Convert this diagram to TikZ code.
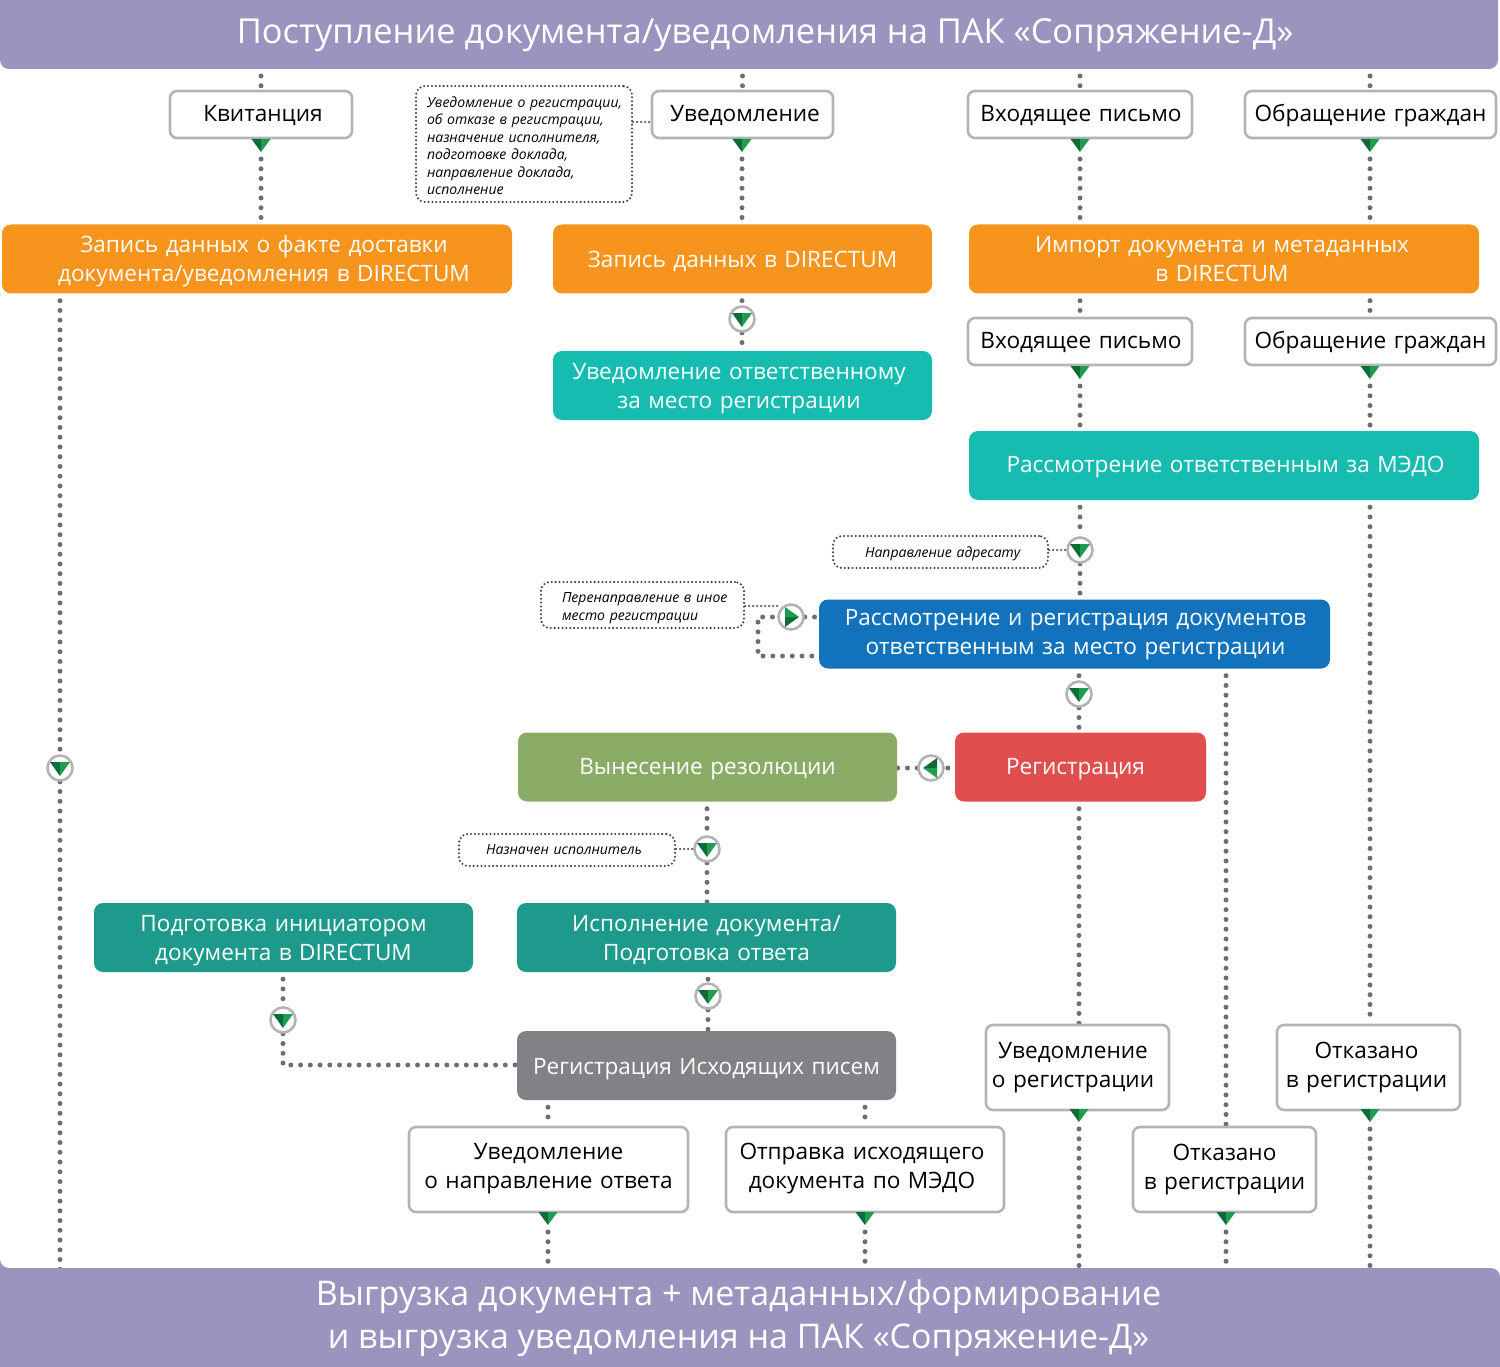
\documentclass[tikz,border=0pt]{standalone}
\usepackage{fontspec}
\setmainfont{Open Sans}
\usetikzlibrary{backgrounds}
\definecolor{cpurple}{HTML}{9D93BF}
\definecolor{corange}{HTML}{F7941E}
\definecolor{cteal}{HTML}{17BCB0}
\definecolor{cdteal}{HTML}{1D9A8C}
\definecolor{cblue}{HTML}{1272BC}
\definecolor{cred}{HTML}{E04E4E}
\definecolor{cgreen}{HTML}{8AAC66}
\definecolor{cgray}{HTML}{808285}
\definecolor{cdot}{HTML}{6D6E71}
\definecolor{cedge}{HTML}{B4B4B4}
\definecolor{tridark}{HTML}{0F6B38}
\definecolor{trilight}{HTML}{1E9C4F}
\newcommand\setcentre[1]{\centering\leftskip=\dimexpr 2\dimexpr #1pt\relax\relax plus 1fil\rightskip=0pt plus 1fil\relax}
\newcommand\tyv{0}
\newcommand\tuv{0}
\tikzset{
  x=1pt,y=-1pt,
  down/.store in=\tyv,
  up/.store in=\tuv,
  proc/.style 2 args={rounded corners=9,text width=#1,minimum height=69,inner sep=0,text=white,font=\fontsize{22.55}{29}\selectfont,
    execute at begin node={\setcentre{#2}\rule{0pt}{\dimexpr 20pt+2\dimexpr\tyv pt\relax\relax}},execute at end node={\rule[-8pt]{0pt}{8pt}}},
  doc/.style 2 args={draw=cedge,line width=2.6,fill=white,rounded corners=7,text width=#1,inner sep=0,text=black,font=\fontsize{22.6}{29}\selectfont,
    execute at begin node={\setcentre{#2}\rule{0pt}{24pt}},execute at end node={\rule[-\dimexpr 8pt+2\dimexpr\tuv pt\relax\relax]{0pt}{\dimexpr 8pt+2\dimexpr\tuv pt\relax\relax}}},
  band/.style={inner sep=0,align=center,text=white},
  note/.style={draw=black!75,line width=2.3,dash pattern=on 0pt off 3.9pt,line cap=round,rounded corners=9,fill=white,inner sep=0,align=left,font=\fontsize{14}{17.4}\selectfont\itshape},
  conn/.style={draw=cdot,line width=5,line cap=round,dash pattern=on 0pt off 9.75pt},
  fromedge/.style={conn,shorten <=7pt},
  thin/.style={draw=black!65,line width=2.4,line cap=round,dash pattern=on 0pt off 4pt},
  markc/.style={circle,draw=cedge,line width=2.6,fill=white,minimum size=25,inner sep=0},
}
\newcommand\trifill[2]{%
  \fill[tridark,shift={(#1)},rotate=#2] (-10,-6) -- (0,-6) -- (0,8) -- cycle;
  \fill[trilight,shift={(#1)},rotate=#2] (10,-6) -- (0,-6) -- (0,8) -- cycle;}
\newcommand\mk[4]{\node[markc] (#1) at (#2,#3) {}; \trifill{#1}{#4}}
\newcommand\tri[3]{\coordinate (#1) at (#2,#3); \fill[tridark] (#2-9.5,#3-13) -- (#2,#3-13) -- (#2,#3) -- cycle; \fill[trilight] (#2+9.5,#3-13) -- (#2,#3-13) -- (#2,#3) -- cycle;}
\begin{document}
\begin{tikzpicture}
\useasboundingbox (0,0) rectangle (1500,1367);
% bands
\fill[cpurple] (0,0) -- (1498,0) [rounded corners=9] -- (1498,69) -- (0,69) [sharp corners] -- cycle;
\node[band,font=\fontsize{34.4}{43.5}\selectfont,minimum width=1498,minimum height=63] (top) at (765,35) {Поступление документа/уведомления на ПАК «Сопряжение-Д»};
\coordinate (topS) at (749,69);
\fill[cpurple] (0,1367) -- (0,1268) [rounded corners=9] -- (0,1268) -- (1500,1268) [sharp corners] -- (1500,1367) -- cycle;
\node[band,font=\fontsize{34}{43.5}\selectfont,minimum width=1000,minimum height=86] (bot) at (738.5,1318) {Выгрузка документа + метаданных/формирование\\и выгрузка уведомления на ПАК «Сопряжение-Д»};
\coordinate (botN) at (750,1270);
% white documents, row 1
\node[doc={182}{2},up=1,minimum height=47] (kvit) at (261,114.5) {Квитанция};
\node[doc={181}{2.5},up=1,minimum height=47] (uved) at (742.5,114.5) {Уведомление};
\node[doc={224}{1},up=1,minimum height=47] (vh1) at (1080,114.5) {Входящее письмо};
\node[doc={251}{0},up=1,minimum height=47] (ob1) at (1370.5,114.5) {Обращение граждан};
% process boxes
\node[proc={510}{7},down=2,fill=corange] (or1) at (257,259) {Запись данных о факте доставки\\документа/уведомления в DIRECTUM};
\node[proc={379}{0},down=3,fill=corange] (or2) at (742.5,259) {Запись данных в DIRECTUM};
\node[proc={510}{-2},down=2,fill=corange] (or3) at (1224,259) {Импорт документа и метаданных\\в DIRECTUM};
\node[doc={224}{1},up=1,minimum height=47] (vh2) at (1080,341.5) {Входящее письмо};
\node[doc={251}{0},up=1,minimum height=47] (ob2) at (1370.5,341.5) {Обращение граждан};
\node[proc={379}{-3.5},down=2,fill=cteal] (te1) at (742.5,385.5) {Уведомление ответственному\\за место регистрации};
\node[proc={510}{1.5},down=1,fill=cteal] (te2) at (1224,465.5) {Рассмотрение ответственным за МЭДО};
\node[proc={511}{1},fill=cblue] (blu) at (1074.5,634) {Рассмотрение и регистрация документов\\ответственным за место регистрации};
\node[proc={379}{0},down=1,fill=cgreen] (gre) at (707.5,767) {Вынесение резолюции};
\node[proc={251}{-5},down=1,fill=cred] (red) at (1080.5,767) {Регистрация};
\node[proc={379}{0},down=2,fill=cdteal] (dt1) at (283.5,937.5) {Подготовка инициатором\\документа в DIRECTUM};
\node[proc={379}{0},down=2,fill=cdteal] (dt2) at (706.5,937.5) {Исполнение документа/\\Подготовка ответа};
\node[proc={379}{0},down=3,fill=cgray] (gry) at (706.5,1065.5) {Регистрация Исходящих писем};
% white documents, lower
\node[doc={183}{-4.5},up=3,minimum height=85] (ur) at (1077.5,1067.5) {Уведомление\\о регистрации};
\node[doc={183}{-2},up=3,minimum height=85] (or) at (1368.5,1067.5) {Отказано\\в регистрации};
\node[doc={279}{0},up=4,minimum height=85] (un) at (548.5,1169.5) {Уведомление\\о направление ответа};
\node[doc={278}{-3},up=4,minimum height=85] (ot) at (865,1169.5) {Отправка исходящего\\документа по МЭДО};
\node[doc={183}{0},up=3,minimum height=85] (or2b) at (1224.5,1169.5) {Отказано\\в регистрации};
% notes
\node[note,minimum height=116,text width=194,inner xsep=11] (n1) at (524,144) {\rule{0pt}{14pt}\mbox{Уведомление о регистрации,}\\\mbox{об отказе в регистрации,}\\\mbox{назначение исполнителя,}\\\mbox{подготовке доклада,}\\\mbox{направление доклада,}\\исполнение};
\node[note,minimum height=32,text width=151,inner xsep=32] (n2) at (940.5,552) {\rule{0pt}{14pt}\mbox{Направление адресату}};
\node[note,minimum height=46,text width=161,inner xsep=21] (n3) at (642.5,605) {\rule{0pt}{16pt}\mbox{Перенаправление в иное}\\\mbox{место регистрации}};
\node[note,minimum height=32,text width=162,inner xsep=27] (n4) at (567,850) {\mbox{Назначен исполнитель}};
% markers
\mk{m1}{742}{319}{0}
\mk{m2}{1080}{550}{0}
\mk{m3}{791}{617}{90}
\mk{m4}{1079}{694}{0}
\mk{m5}{931}{768}{-90}
\mk{m6}{707}{849}{0}
\mk{m7}{708}{996}{0}
\mk{m8}{283}{1020}{0}
\mk{m9}{60}{768}{0}
% triangle tips under documents
\tri{t1}{261}{152}
\tri{t2}{742}{152}
\tri{t3}{1080}{152}
\tri{t4}{1370}{152}
\tri{t5}{1080}{379}
\tri{t6}{1370}{379}
\tri{t7}{1079}{1122}
\tri{t8}{1370}{1122}
\tri{t9}{548}{1225}
\tri{t10}{865}{1225}
\tri{t11}{1226}{1225}
\coordinate (loop1) at (758,617);
\coordinate (loop2) at (758,656);
\coordinate (elb) at (283,1065);
\begin{scope}[on background layer]
\draw[fromedge] (kvit |- topS) -- (kvit.north);
\draw[fromedge] (uved |- topS) -- (uved.north);
\draw[fromedge] (vh1 |- topS) -- (vh1.north);
\draw[fromedge] (t4 |- topS) -- (ob1.north -| t4);
\draw[fromedge] (t1) -- (t1 |- or1.north);
\draw[fromedge] (t2) -- (t2 |- or2.north);
\draw[fromedge] (t3) -- (t3 |- or3.north);
\draw[fromedge] (t4) -- (t4 |- or3.north);
\draw[fromedge] (vh2 |- or3.south) -- (vh2.north);
\draw[fromedge] (t6 |- or3.south) -- (t6 |- ob2.north);
\draw[fromedge] (t5) -- (t5 |- te2.north);
\draw[fromedge] (t6) -- (t6 |- te2.north);
\draw[fromedge] (m1 |- or2.south) -- (m1);
\draw[conn] (m1) -- (m1 |- te1.north);
\draw[fromedge] (m2 |- te2.south) -- (m2);
\draw[conn] (m2) -- (m2 |- blu.north);
\draw[fromedge] (m4 |- blu.south) -- (m4);
\draw[conn] (m4) -- (m4 |- red.north);
\draw[conn] (m3) -- (blu.west |- m3);
\draw[fromedge] (blu.west |- loop2) -- (loop2) -- (loop1) -- (m3);
\draw[fromedge] (red.west |- m5) -- (m5);
\draw[conn] (m5) -- (gre.east |- m5);
\draw[fromedge] (m6 |- gre.south) -- (m6);
\draw[conn] (m6) -- (m6 |- dt2.north);
\draw[fromedge] (m7 |- dt2.south) -- (m7);
\draw[conn] (m7) -- (m7 |- gry.north);
\draw[fromedge] (m8 |- dt1.south) -- (m8);
\draw[conn] (m8) -- (elb) -- (gry.west |- elb);
\draw[fromedge] (m9 |- or1.south) -- (m9);
\draw[conn] (m9) -- (m9 |- botN);
\draw[fromedge] (t8 |- te2.south) -- (t8 |- or.north);
\draw[fromedge] (t7 |- red.south) -- (t7 |- ur.north);
\draw[fromedge] (t11 |- blu.south) -- (t11 |- or2b.north);
\draw[fromedge] (t9 |- gry.south) -- (t9 |- un.north);
\draw[fromedge] (t10 |- gry.south) -- (t10 |- ot.north);
\draw[fromedge] (t7) -- (t7 |- botN);
\draw[fromedge] (t8) -- (t8 |- botN);
\draw[fromedge] (t9) -- (t9 |- botN);
\draw[fromedge] (t10) -- (t10 |- botN);
\draw[fromedge] (t11) -- (t11 |- botN);
\draw[thin] (n1.east |- 0,122) -- (uved.west |- 0,122);
\draw[thin] (n2.east |- m2) -- (m2);
\draw[thin] (n3.east |- 0,606) -- (780,606);
\draw[thin] (n4.east |- m6) -- (m6);
\end{scope}
\end{tikzpicture}
\end{document}
